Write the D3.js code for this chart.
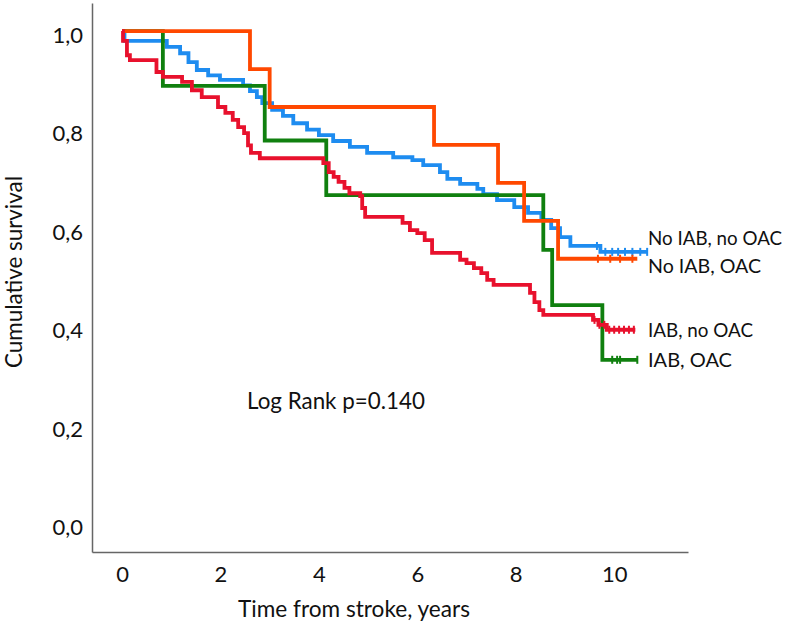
<!DOCTYPE html>
<html>
<head>
<meta charset="utf-8">
<script src="https://cdn.jsdelivr.net/npm/d3@7"></script>
<style>
  body { margin: 0; background: #fff; }
  text { font-family: Lato, "Noto Sans", sans-serif; fill: #111; }
</style>
</head>
<body>
<div id="chart"></div>
<script>
var w = 787;
var h = 626;

// step data: [years, survival after the step]
var noIabNoOac = [[0, 1], [0.05, 0.980], [0.91, 0.968], [1.18, 0.955], [1.35, 0.937], [1.52, 0.921],
  [1.75, 0.910], [1.99, 0.901], [2.46, 0.890], [2.60, 0.878], [2.74, 0.866], [2.85, 0.854],
  [3.05, 0.840], [3.27, 0.828], [3.48, 0.813], [3.76, 0.800], [4.00, 0.789], [4.29, 0.777],
  [4.63, 0.765], [4.98, 0.753], [5.51, 0.744], [5.90, 0.738], [6.12, 0.728], [6.46, 0.714],
  [6.61, 0.700], [6.87, 0.690], [7.22, 0.680], [7.34, 0.669], [7.62, 0.657], [7.97, 0.643],
  [8.25, 0.631], [8.52, 0.617], [8.72, 0.600], [8.90, 0.582], [9.11, 0.564], [9.72, 0.552], [10.67, 0.552]];
var noIabOac = [[0, 1], [2.60, 0.923], [3.00, 0.846], [6.34, 0.769], [7.64, 0.692], [8.17, 0.615],
  [8.86, 0.538], [10.47, 0.538]];
var iabNoOac = [[0, 1], [0.02, 0.980], [0.10, 0.951], [0.16, 0.941], [0.70, 0.917], [0.83, 0.907],
  [1.22, 0.897], [1.42, 0.880], [1.62, 0.866], [1.95, 0.846], [2.10, 0.834], [2.25, 0.820],
  [2.36, 0.805], [2.48, 0.793], [2.56, 0.768], [2.62, 0.753], [2.80, 0.742], [4.09, 0.732],
  [4.20, 0.714], [4.30, 0.704], [4.40, 0.694], [4.52, 0.682], [4.62, 0.671], [4.84, 0.665],
  [4.88, 0.641], [4.94, 0.623], [5.70, 0.611], [5.85, 0.596], [6.00, 0.590], [6.15, 0.576],
  [6.30, 0.550], [6.87, 0.536], [7.00, 0.529], [7.15, 0.519], [7.30, 0.509], [7.42, 0.495],
  [7.55, 0.485], [8.29, 0.469], [8.38, 0.450], [8.48, 0.434], [8.56, 0.424], [9.57, 0.414],
  [9.68, 0.404], [9.85, 0.394], [10.43, 0.394]];
var iabOac = [[0, 1], [0.83, 0.889], [2.90, 0.778], [4.15, 0.667], [8.56, 0.556], [8.74, 0.444],
  [9.76, 0.333], [10.47, 0.333]];

// censored times
var censNoIabNoOac = [9.65, 9.82, 9.96, 10.08, 10.22, 10.37, 10.53, 10.67];
var censNoIabOac = [9.67, 9.92, 10.12, 10.37];
var censIabNoOac = [9.6, 9.7, 9.8, 9.9, 10.0, 10.1, 10.2, 10.3, 10.4];
var censIabOac = [9.96, 10.06, 10.12, 10.47];

var groupNames = ['No IAB, no OAC', 'No IAB, OAC', 'IAB, no OAC', 'IAB, OAC'];
var yTicks = [0, 0.2, 0.4, 0.6, 0.8, 1.0];
var xTicks = [0, 2, 4, 6, 8, 10];

// drawing order: blue, green, orange, red
var series = [
  {name: groupNames[0], steps: noIabNoOac, cens: censNoIabNoOac, color: '#1e8cf0', ly: 245},
  {name: groupNames[3], steps: iabOac, cens: censIabOac, color: '#10800f', ly: 367},
  {name: groupNames[1], steps: noIabOac, cens: censNoIabOac, color: '#ff4800', ly: 273},
  {name: groupNames[2], steps: iabNoOac, cens: censIabNoOac, color: '#e8112d', ly: 337}
];

var svg = d3.select('#chart').append('svg').attr('width', w).attr('height', h);

var x = d3.scaleLinear().domain([-0.61, 11.5]).range([92, 688]);
var y = d3.scaleLinear().domain([-0.057, 1.057]).range([552, 3]);

function fit(sel, target) {
  var n = sel.node();
  var fs = parseFloat(sel.attr('font-size'));
  var len = n.getComputedTextLength();
  sel.attr('font-size', (fs * target / len).toFixed(2));
}

// axes
var yAxis = svg.append('g').attr('transform', 'translate(92,0)')
  .call(d3.axisLeft(y).tickValues(yTicks).tickSize(0).tickPadding(9)
    .tickFormat(function (d) { return d.toFixed(1).replace('.', ','); }));
var xAxis = svg.append('g').attr('transform', 'translate(0,552)')
  .call(d3.axisBottom(x).tickValues(xTicks).tickSize(0).tickPadding(14));

[yAxis, xAxis].forEach(function (g) {
  g.select('.domain').attr('stroke', '#666').attr('stroke-width', 1.5);
  g.selectAll('text').attr('font-size', 22).attr('font-family', 'Lato').attr('fill', '#111');
});
yAxis.selectAll('text').attr('dy', '0.5em');

// curves
var line = d3.line()
  .x(function (d) { return x(d[0]); })
  .y(function (d) { return y(d[1]); })
  .curve(d3.curveStepAfter);

function survAt(steps, t) {
  var s = 1;
  steps.forEach(function (d) { if (d[0] <= t) s = d[1]; });
  return s;
}

series.forEach(function (s) {
  svg.append('path')
    .attr('d', line(s.steps))
    .attr('fill', 'none')
    .attr('stroke', s.color)
    .attr('stroke-width', 3.8)
    .attr('stroke-linejoin', 'miter');
  svg.selectAll(null)
    .data(s.cens)
    .enter()
    .append('line')
    .attr('x1', function (d) { return x(d); })
    .attr('x2', function (d) { return x(d); })
    .attr('y1', function (d) { return y(survAt(s.steps, d)) - 4; })
    .attr('y2', function (d) { return y(survAt(s.steps, d)) + 4; })
    .attr('stroke', s.color)
    .attr('stroke-width', 2);
});

// group labels
var legendWidths = {'No IAB, no OAC': 134, 'No IAB, OAC': 113, 'IAB, no OAC': 105, 'IAB, OAC': 84};
series.forEach(function (s) {
  var t = svg.append('text')
    .attr('x', 648)
    .attr('y', s.ly)
    .attr('font-size', 18)
    .text(s.name);
  fit(t, legendWidths[s.name]);
});

var lr = svg.append('text').attr('x', 247).attr('y', 409).attr('font-size', 20).text('Log Rank p=0.140');
fit(lr, 178);

var xt = svg.append('text').attr('x', 354).attr('y', 617).attr('text-anchor', 'middle')
  .attr('font-size', 20).text('Time from stroke, years');
fit(xt, 232);

var yt = svg.append('text').attr('transform', 'translate(22,272) rotate(-90)')
  .attr('text-anchor', 'middle').attr('font-size', 20).text('Cumulative survival');
fit(yt, 192);
</script>
</body>
</html>
